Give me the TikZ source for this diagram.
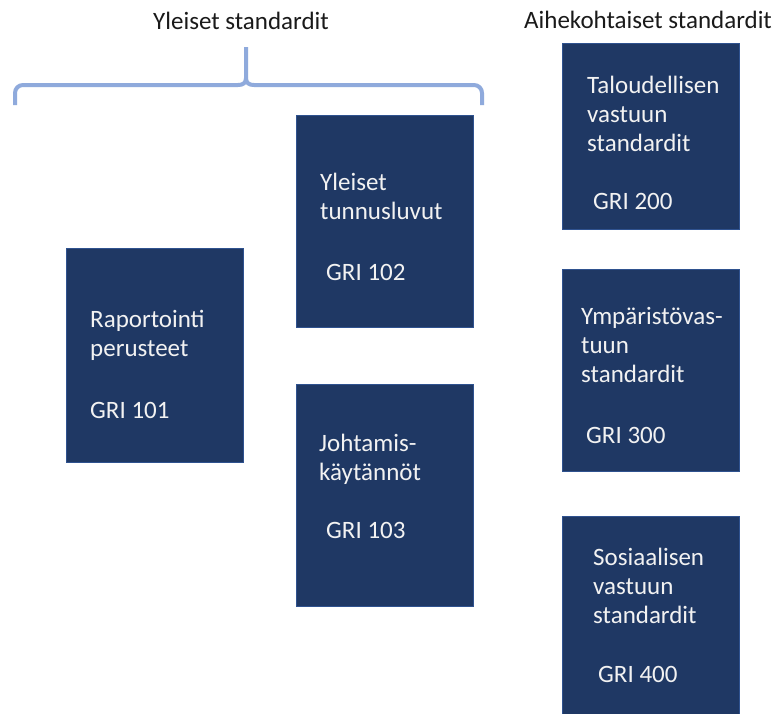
\documentclass[tikz,border=0pt]{standalone}
\usepackage{fontspec}
\setmainfont{Carlito}
\definecolor{boxfill}{HTML}{1F3864}
\definecolor{boxline}{HTML}{2F528F}
\definecolor{bracecol}{HTML}{8FAADC}
\definecolor{boxtext}{HTML}{F2F2F2}
\definecolor{titletext}{HTML}{1A1A1A}
\tikzset{
  gribox/.style={draw=boxline, fill=boxfill, line width=1pt, anchor=north west,
    inner sep=0pt, outer sep=0pt},
  boxlbl/.style={anchor=base west, inner sep=0pt, text=boxtext,
    font=\fontsize{25}{29}\selectfont},
  titlelbl/.style={anchor=base west, inner sep=0pt, text=titletext,
    font=\fontsize{25}{29}\selectfont},
  bracestyle/.style={draw=bracecol, line width=4pt}
}
\begin{document}
\begin{tikzpicture}[x=1pt, y=-1pt]
\useasboundingbox (0,0) rectangle (779,713);
\clip (0,0) rectangle (779,713);
\fill[white] (0,0) rectangle (779,713);

% titles
\node[titlelbl] (t1) at (153,29) {Yleiset standardit};
\node[titlelbl] (t2) at (524,28) {Aihekohtaiset standardit};

% brace
\draw[bracestyle] (15,105) -- (15,93) .. controls (15,88.5) and (18.5,85) .. (23,85)
  -- (238,85) .. controls (243,85) and (246,83) .. (246,78) -- (246,47);
\draw[bracestyle] (246,78) .. controls (246,83) and (249,85) .. (254,85)
  -- (474,85) .. controls (478.5,85) and (482,88.5) .. (482,93) -- (482,105);

% boxes
\node[gribox, minimum width=177pt, minimum height=214pt] (b101) at (66,248) {};
\node[gribox, minimum width=177pt, minimum height=212pt] (b102) at (296,115) {};
\node[gribox, minimum width=177pt, minimum height=222pt] (b103) at (296,384) {};
\node[gribox, minimum width=177pt, minimum height=186pt] (b200) at (562,43) {};
\node[gribox, minimum width=177pt, minimum height=202pt] (b300) at (562,269) {};
\node[gribox, minimum width=177pt, minimum height=210pt] (b400) at (562,516) {};

% box texts
\node[boxlbl] (l101a) at (90,327) {Raportointi};
\node[boxlbl] (l101b) at (90,356) {perusteet};
\node[boxlbl] (l101c) at (90,418) {GRI 101};

\node[boxlbl] (l102a) at (320,190) {Yleiset};
\node[boxlbl] (l102b) at (320,219) {tunnusluvut};
\node[boxlbl] (l102c) at (326,280) {GRI 102};

\node[boxlbl] (l103a) at (319,451) {Johtamis-};
\node[boxlbl] (l103b) at (319,480) {käytännöt};
\node[boxlbl] (l103c) at (326,538) {GRI 103};

\node[boxlbl] (l200a) at (587,93) {Taloudellisen};
\node[boxlbl] (l200b) at (587,122) {vastuun};
\node[boxlbl] (l200c) at (587,151) {standardit};
\node[boxlbl] (l200d) at (593,209) {GRI 200};

\node[boxlbl] (l300a) at (581,324) {Ympäristövas-};
\node[boxlbl] (l300b) at (581,353) {tuun};
\node[boxlbl] (l300c) at (581,382) {standardit};
\node[boxlbl] (l300d) at (586,443) {GRI 300};

\node[boxlbl] (l400a) at (593,565) {Sosiaalisen};
\node[boxlbl] (l400b) at (593,594) {vastuun};
\node[boxlbl] (l400c) at (593,623) {standardit};
\node[boxlbl] (l400d) at (598,682) {GRI 400};
\end{tikzpicture}
\end{document}
